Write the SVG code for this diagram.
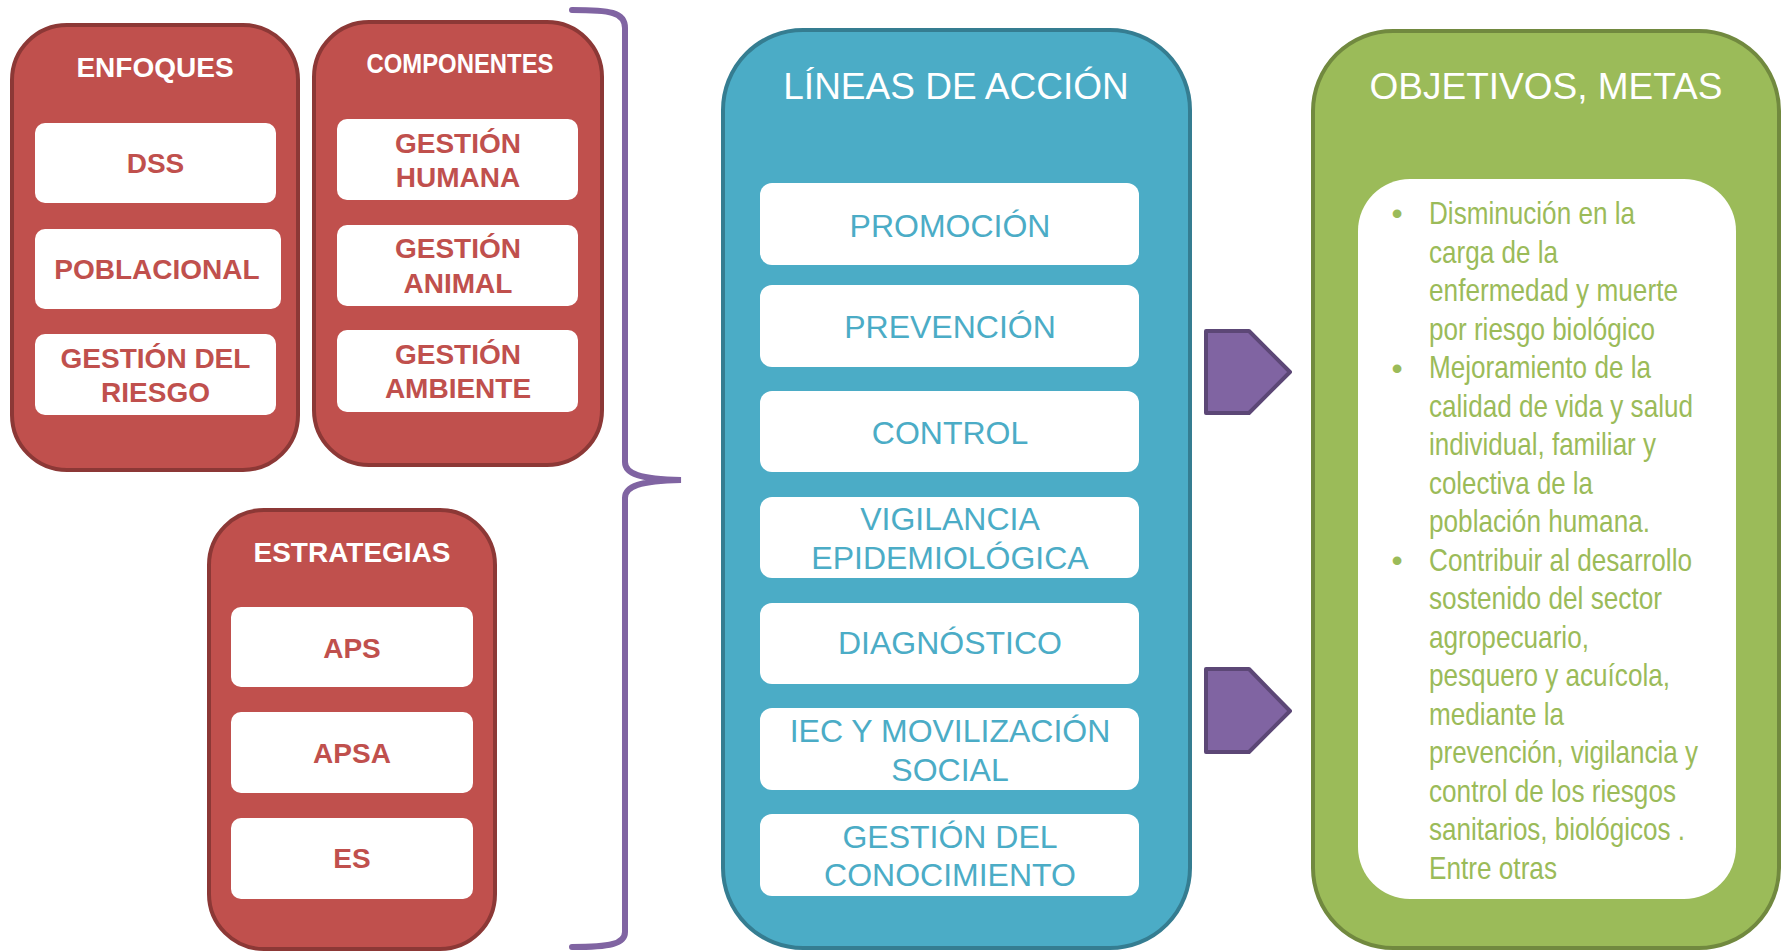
<svg xmlns="http://www.w3.org/2000/svg" width="1787" height="951" viewBox="0 0 1787 951">
<style>
  text { font-family: "Liberation Sans", Arial, sans-serif; }
  .red { fill: #C0504D; stroke: #8C3836; stroke-width: 4; }
  .wbox { fill: #FFFFFF; }
  .rtitle { fill: #FFFFFF; font-weight: bold; font-size: 28px; text-anchor: middle; }
  .rtext { fill: #C0504D; font-weight: bold; font-size: 28px; text-anchor: middle; }
  .blue { fill: #4BACC6; stroke: #357D91; stroke-width: 4; }
  .green { fill: #9BBB59; stroke: #71893F; stroke-width: 4; }
  .btitle { fill: #FFFFFF; font-size: 37px; text-anchor: middle; }
  .btext { fill: #4BACC6; font-size: 32px; text-anchor: middle; }
  .gtext { fill: #9BBB59; font-size: 32px; }
  .arrow { fill: #8064A2; stroke: #5C4776; stroke-width: 4; stroke-linejoin: round; }
</style>

<g id="enfoques">
  <rect class="red" x="12" y="25" width="286" height="445" rx="55" ry="55"/>
  <text class="rtitle" x="155" y="77">ENFOQUES</text>
  <rect class="wbox" x="35" y="123" width="241" height="80" rx="10"/>
  <text class="rtext" x="155.5" y="173">DSS</text>
  <rect class="wbox" x="35" y="229" width="246" height="80" rx="10"/>
  <text class="rtext" x="157" y="279">POBLACIONAL</text>
  <rect class="wbox" x="35" y="334" width="241" height="81" rx="10"/>
  <text class="rtext" x="155.5" y="368">GESTIÓN DEL</text>
  <text class="rtext" x="155.5" y="402">RIESGO</text>
</g>

<g id="componentes">
  <rect class="red" x="314" y="22" width="288" height="443" rx="55" ry="55"/>
  <text class="rtitle" x="460" y="73" font-size="28" textLength="187" lengthAdjust="spacingAndGlyphs">COMPONENTES</text>
  <rect class="wbox" x="337" y="119" width="241" height="81" rx="10"/>
  <text class="rtext" x="458" y="153">GESTIÓN</text>
  <text class="rtext" x="458" y="187">HUMANA</text>
  <rect class="wbox" x="337" y="225" width="241" height="81" rx="10"/>
  <text class="rtext" x="458" y="258">GESTIÓN</text>
  <text class="rtext" x="458" y="293">ANIMAL</text>
  <rect class="wbox" x="337" y="330" width="241" height="82" rx="10"/>
  <text class="rtext" x="458" y="364">GESTIÓN</text>
  <text class="rtext" x="458" y="398">AMBIENTE</text>
</g>

<g id="estrategias">
  <rect class="red" x="209" y="510" width="286" height="439" rx="55" ry="55"/>
  <text class="rtitle" x="352" y="562">ESTRATEGIAS</text>
  <rect class="wbox" x="231" y="607" width="242" height="80" rx="10"/>
  <text class="rtext" x="352" y="658">APS</text>
  <rect class="wbox" x="231" y="712" width="242" height="81" rx="10"/>
  <text class="rtext" x="352" y="763">APSA</text>
  <rect class="wbox" x="231" y="818" width="242" height="81" rx="10"/>
  <text class="rtext" x="352" y="868">ES</text>
</g>

<g id="lineas">
  <rect class="blue" x="723" y="30" width="467" height="918" rx="80" ry="80"/>
  <text class="btitle" x="956" y="99">LÍNEAS DE ACCIÓN</text>
  <rect class="wbox" x="760" y="183" width="379" height="82" rx="12"/>
  <text class="btext" x="950" y="237">PROMOCIÓN</text>
  <rect class="wbox" x="760" y="285" width="379" height="82" rx="12"/>
  <text class="btext" x="950" y="338">PREVENCIÓN</text>
  <rect class="wbox" x="760" y="391" width="379" height="81" rx="12"/>
  <text class="btext" x="950" y="444">CONTROL</text>
  <rect class="wbox" x="760" y="497" width="379" height="81" rx="12"/>
  <text class="btext" x="950" y="530">VIGILANCIA</text>
  <text class="btext" x="950" y="569">EPIDEMIOLÓGICA</text>
  <rect class="wbox" x="760" y="603" width="379" height="81" rx="12"/>
  <text class="btext" x="950" y="654">DIAGNÓSTICO</text>
  <rect class="wbox" x="760" y="708" width="379" height="82" rx="12"/>
  <text class="btext" x="950" y="742">IEC Y MOVILIZACIÓN</text>
  <text class="btext" x="950" y="781">SOCIAL</text>
  <rect class="wbox" x="760" y="814" width="379" height="82" rx="12"/>
  <text class="btext" x="950" y="848">GESTIÓN DEL</text>
  <text class="btext" x="950" y="886">CONOCIMIENTO</text>
</g>

<g id="objetivos">
  <rect class="green" x="1313" y="31" width="466" height="917" rx="80" ry="80"/>
  <text class="btitle" x="1546" y="99">OBJETIVOS, METAS</text>
  <rect class="wbox" x="1358" y="179" width="378" height="720" rx="52" ry="52"/>
  <text class="gtext" x="1397" y="224" text-anchor="middle">•</text>
  <text class="gtext" x="1397" y="378.5" text-anchor="middle">•</text>
  <text class="gtext" x="1397" y="571" text-anchor="middle">•</text>
  <text class="gtext" x="1429" y="224" textLength="206" lengthAdjust="spacingAndGlyphs">Disminución en la</text>
  <text class="gtext" x="1429" y="262.5" textLength="129" lengthAdjust="spacingAndGlyphs">carga de la</text>
  <text class="gtext" x="1429" y="301" textLength="249" lengthAdjust="spacingAndGlyphs">enfermedad y muerte</text>
  <text class="gtext" x="1429" y="339.5" textLength="226" lengthAdjust="spacingAndGlyphs">por riesgo biológico</text>
  <text class="gtext" x="1429" y="378" textLength="222" lengthAdjust="spacingAndGlyphs">Mejoramiento de la</text>
  <text class="gtext" x="1429" y="416.5" textLength="264" lengthAdjust="spacingAndGlyphs">calidad de vida y salud</text>
  <text class="gtext" x="1429" y="455" textLength="227" lengthAdjust="spacingAndGlyphs">individual, familiar y</text>
  <text class="gtext" x="1429" y="493.5" textLength="164" lengthAdjust="spacingAndGlyphs">colectiva de la</text>
  <text class="gtext" x="1429" y="532" textLength="221" lengthAdjust="spacingAndGlyphs">población humana.</text>
  <text class="gtext" x="1429" y="570.5" textLength="263" lengthAdjust="spacingAndGlyphs">Contribuir al desarrollo</text>
  <text class="gtext" x="1429" y="609" textLength="233" lengthAdjust="spacingAndGlyphs">sostenido del sector</text>
  <text class="gtext" x="1429" y="647.5" textLength="160" lengthAdjust="spacingAndGlyphs">agropecuario,</text>
  <text class="gtext" x="1429" y="686" textLength="241" lengthAdjust="spacingAndGlyphs">pesquero y acuícola,</text>
  <text class="gtext" x="1429" y="724.5" textLength="135" lengthAdjust="spacingAndGlyphs">mediante la</text>
  <text class="gtext" x="1429" y="763" textLength="269" lengthAdjust="spacingAndGlyphs">prevención, vigilancia y</text>
  <text class="gtext" x="1429" y="801.5" textLength="247" lengthAdjust="spacingAndGlyphs">control de los riesgos</text>
  <text class="gtext" x="1429" y="840" textLength="256" lengthAdjust="spacingAndGlyphs">sanitarios, biológicos .</text>
  <text class="gtext" x="1429" y="878.5" textLength="128" lengthAdjust="spacingAndGlyphs">Entre otras</text>
</g>

<g id="connectors">
  <path d="M 572 10 C 610 10 625 12 625 28 L 625 462 C 625 474 640 479 681 480 C 640 481 625 486 625 498 L 625 932 C 625 944 610 947 572 947" fill="none" stroke="#8064A2" stroke-width="6" stroke-linecap="round"/>
  <polygon class="arrow" points="1206,331 1249,331 1290,372 1249,413 1206,413"/>
  <polygon class="arrow" points="1206,669 1249,669 1290,711 1249,752 1206,752"/>
</g>
</svg>
